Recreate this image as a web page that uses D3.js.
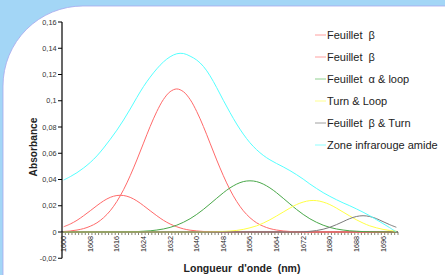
<!DOCTYPE html>
<html><head><meta charset="utf-8">
<script src="https://cdn.jsdelivr.net/npm/d3@7"></script>
<style>html,body{margin:0;padding:0;background:#a3d6f6;} svg{display:block;} text{white-space:pre;}</style>
</head><body><svg id="c" width="445" height="275"></svg>
<script>
const wavelengths = [1600,1602,1604,1606,1608,1610,1612,1614,1616,1618,1620,1622,1624,1626,1628,1630,1632,1634,1636,1638,1640,1642,1644,1646,1648,1650,1652,1654,1656,1658,1660,1662,1664,1666,1668,1670,1672,1674,1676,1678,1680,1682,1684,1686,1688,1690,1692,1694,1696,1698,1700];
const feuilletB1 = [0.0040,0.0061,0.0089,0.0124,0.0162,0.0201,0.0237,0.0264,0.0278,0.0278,0.0264,0.0237,0.0201,0.0162,0.0124,0.0089,0.0061,0.0040,0.0024,0.0014,0.0008,0.0004,0.0002,0.0001,0,0,0,0,0,0,0,0,0,0,0,0,0,0,0,0,0,0,0,0,0,0,0,0,0,0,0];
const feuilletB2 = [0.0004,0.0008,0.0015,0.0026,0.0044,0.0070,0.0109,0.0162,0.0233,0.0322,0.0429,0.0549,0.0677,0.0804,0.0918,0.1010,0.1069,0.1090,0.1069,0.1010,0.0918,0.0804,0.0677,0.0549,0.0429,0.0322,0.0233,0.0162,0.0109,0.0070,0.0044,0.0026,0.0015,0.0008,0.0004,0.0002,0.0001,0,0,0,0,0,0,0,0,0,0,0,0,0,0];
const alphaLoop = [0,0,0,0,0,0,0,0,0.0001,0.0001,0.0002,0.0003,0.0006,0.0009,0.0015,0.0023,0.0035,0.0052,0.0074,0.0101,0.0134,0.0172,0.0214,0.0257,0.0299,0.0336,0.0365,0.0384,0.0390,0.0384,0.0365,0.0336,0.0299,0.0257,0.0214,0.0172,0.0134,0.0101,0.0074,0.0052,0.0035,0.0023,0.0015,0.0009,0.0006,0.0003,0.0002,0.0001,0.0001,0,0];
const turnLoop = [0,0,0,0,0,0,0,0,0,0,0,0,0,0,0,0,0,0,0,0,0,0,0.0001,0.0002,0.0004,0.0007,0.0012,0.0020,0.0032,0.0047,0.0068,0.0093,0.0122,0.0152,0.0182,0.0209,0.0228,0.0239,0.0239,0.0228,0.0209,0.0182,0.0152,0.0122,0.0093,0.0068,0.0047,0.0032,0.0020,0.0012,0.0007];
const betaTurn = [0,0,0,0,0,0,0,0,0,0,0,0,0,0,0,0,0,0,0,0,0,0,0,0,0,0,0,0,0,0,0,0,0,0,0,0.0001,0.0002,0.0005,0.0011,0.0021,0.0036,0.0056,0.0079,0.0102,0.0118,0.0124,0.0118,0.0102,0.0079,0.0056,0.0036];
const amideZone = [0.0396,0.0422,0.0452,0.0488,0.0530,0.0580,0.0640,0.0706,0.0776,0.0853,0.0937,0.1025,0.1108,0.1180,0.1243,0.1296,0.1335,0.1358,0.1360,0.1340,0.1310,0.1262,0.1190,0.1100,0.1003,0.0910,0.0823,0.0746,0.0680,0.0627,0.0584,0.0550,0.0522,0.0496,0.0468,0.0437,0.0403,0.0366,0.0332,0.0300,0.0272,0.0246,0.0222,0.0200,0.0176,0.0151,0.0124,0.0094,0.0064,0.0033,0.0000];

const seriesNames = ["Feuillet  \u03B2","Feuillet  \u03B2","Feuillet  \u03B1 & loop","Turn & Loop","Feuillet  \u03B2 & Turn","Zone infrarouge amide"];
const seriesColors = ["#ff6a6a","#ff6a6a","#4aa84a","#ffff44","#7a7a7a","#55ffff"];
const legendColors = ["#ffa0a0","#ffa0a0","#90d090","#ffff90","#a0a0a0","#90ffff"];
const xTickLabels = [1600,1608,1616,1624,1632,1640,1648,1656,1664,1672,1680,1688,1696];
const yTickValues = [-0.02,0,0.02,0.04,0.06,0.08,0.1,0.12,0.14,0.16];
const yTickLabels = ["-0,02","0","0,02","0,04","0,06","0,08","0,1","0,12","0,14","0,16"];

const svg = d3.select("#c");
const font = "'Liberation Sans', Arial, sans-serif";

// background panel
svg.append("rect").attr("width",445).attr("height",275).attr("fill","#a3d6f6");
svg.append("path").attr("d","M3,276 L3,86 A80,80 0 0 1 83,6 L446,6 L446,276 Z")
  .attr("fill","#ffffff").attr("stroke","#a8a8ee").attr("stroke-width",0.8);

const x = d3.scaleLinear().domain([1599.5,1700.5]).range([62,398]);
const y = d3.scaleLinear().domain([-0.02,0.16]).range([258.25,22]);

// y axis
const gy = svg.append("g");
gy.append("line").attr("x1",62).attr("x2",62).attr("y1",y(0.16)).attr("y2",y(-0.02)).attr("stroke","#000").attr("stroke-width",1.2);
yTickValues.forEach((v,i)=>{
  gy.append("line").attr("x1",58).attr("x2",62).attr("y1",y(v)).attr("y2",y(v)).attr("stroke","#000");
  gy.append("text").attr("x",56.5).attr("y",y(v)).attr("dy","0.35em").attr("text-anchor","end")
    .attr("font-family",font).attr("font-size",7.3).attr("fill","#333").text(yTickLabels[i]);
});

// x axis
const gx = svg.append("g");
gx.append("line").attr("x1",x(1599.5)).attr("x2",x(1700.5)).attr("y1",y(0)).attr("y2",y(0)).attr("stroke","#000").attr("stroke-width",1.2);
d3.range(0,102).forEach(k=>{
  const xv = x(1599.5+k);
  gx.append("line").attr("x1",xv).attr("x2",xv).attr("y1",y(0)).attr("y2",y(0)+3).attr("stroke","#6a6a50").attr("stroke-width",0.8);
});
xTickLabels.forEach(t=>{
  gx.append("text").attr("transform",`translate(${x(t)},${y(0)+4}) rotate(-90)`)
    .attr("dy","0.35em").attr("text-anchor","end").attr("font-family",font).attr("font-size",7.2).attr("fill","#222").text(t);
});

// series
const allSeries = [feuilletB1,feuilletB2,alphaLoop,turnLoop,betaTurn,amideZone];
const line = d3.line().x((d,i)=>x(wavelengths[i])).y(d=>y(d)).curve(d3.curveCatmullRom.alpha(0.5));
allSeries.forEach((s,i)=>{
  svg.append("path").attr("d",line(s)).attr("fill","none").attr("stroke",seriesColors[i]).attr("stroke-width",1);
});

// axis titles
svg.append("text").attr("transform","translate(37,147) rotate(-90)").attr("text-anchor","middle")
  .attr("font-family",font).attr("font-weight","bold").attr("font-size",10.2).attr("fill","#222").text("Absorbance");
svg.append("text").attr("x",242).attr("y",272).attr("text-anchor","middle")
  .attr("font-family",font).attr("font-weight","bold").attr("font-size",10.5).attr("fill","#222").text("Longueur  d'onde  (nm)");

// legend
seriesNames.forEach((n,i)=>{
  const cy = 35 + i*22;
  svg.append("line").attr("x1",315).attr("x2",326).attr("y1",cy).attr("y2",cy).attr("stroke",legendColors[i]).attr("stroke-width",1);
  svg.append("text").attr("x",327).attr("y",cy).attr("dy","0.35em").attr("font-family",font).attr("font-size",11).attr("fill","#222").text(n);
});
</script></body></html>
